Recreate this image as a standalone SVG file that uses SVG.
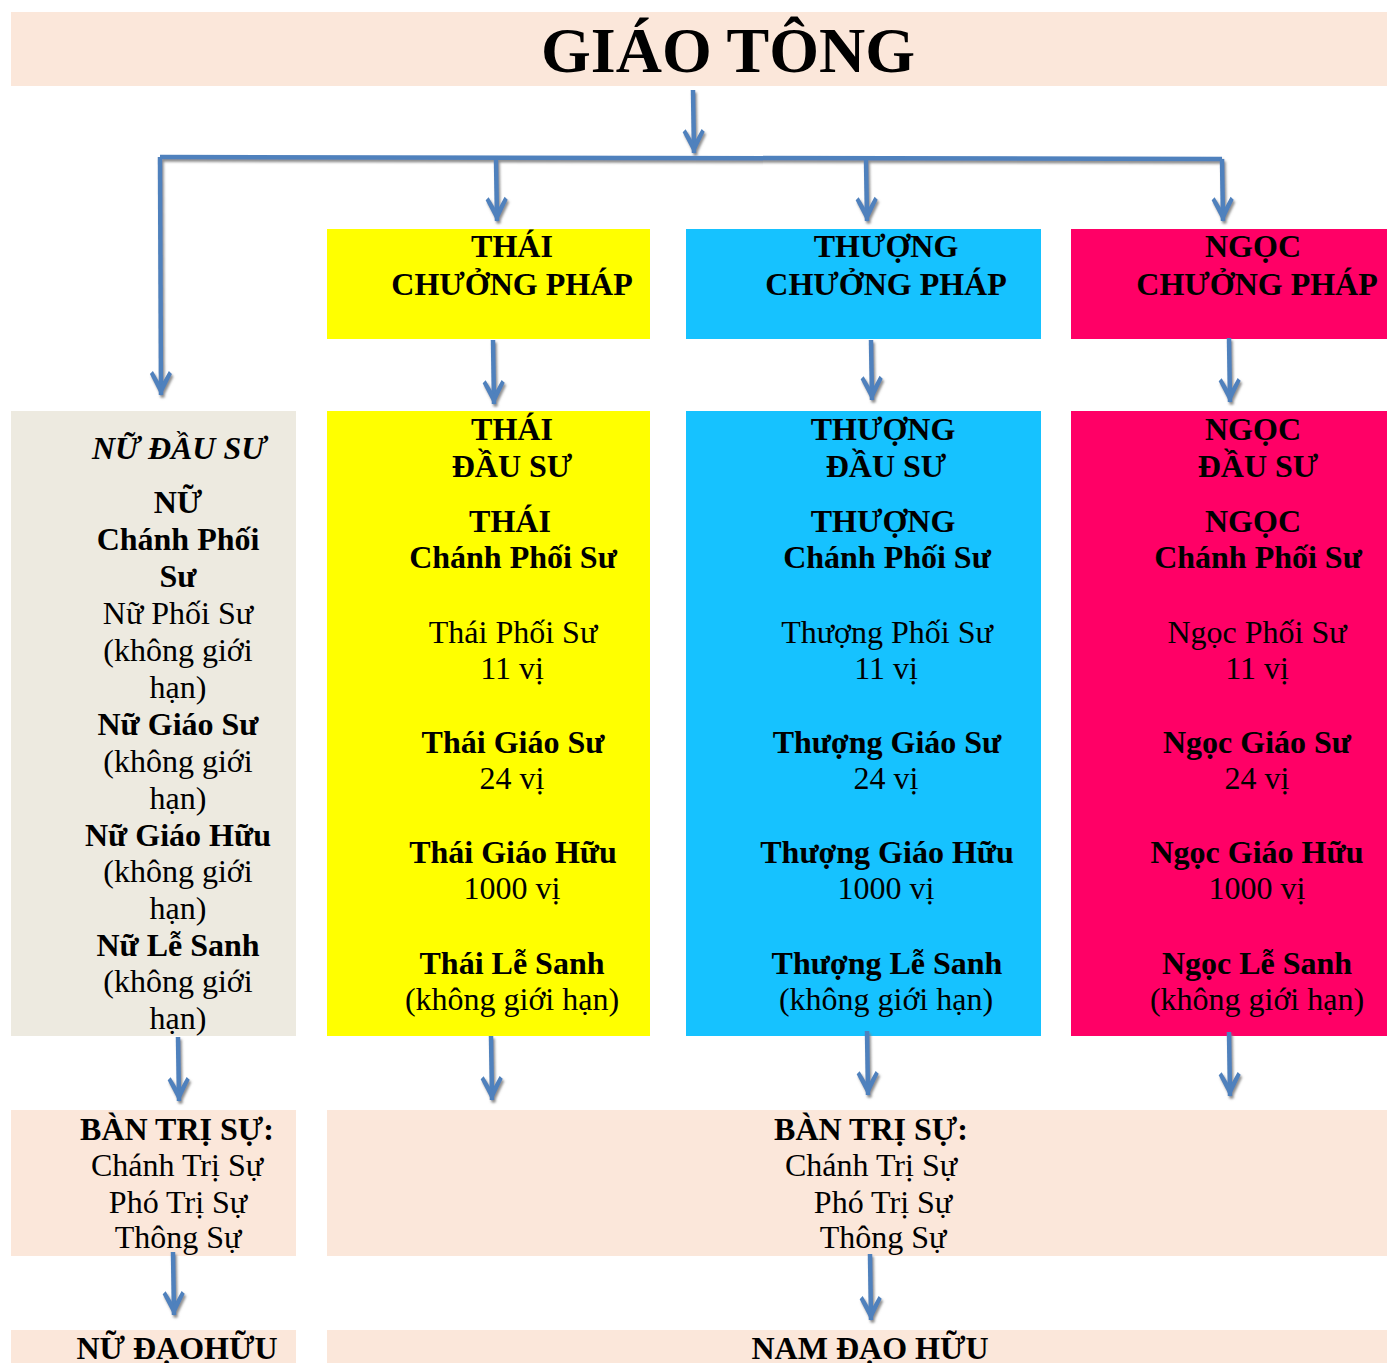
<svg xmlns="http://www.w3.org/2000/svg" width="1387" height="1363" viewBox="0 0 1387 1363">
<style>
text{font-family:"Liberation Serif","Times New Roman",serif;font-size:32px;text-anchor:middle;fill:#000}
.b{font-weight:bold}
.bi{font-weight:bold;font-style:italic}
.peach{fill:#FBE7DA}
.gray{fill:#EDEAE0}
.yel{fill:#FFFF00}
.blu{fill:#16C2FF}
.red{fill:#FF0066}
.conn{stroke:#4F81BD;stroke-width:4.5;fill:none}
</style>
<defs>
<filter id="sh" x="-20%" y="-20%" width="160%" height="160%">
<feDropShadow dx="1.5" dy="2.5" stdDeviation="1" flood-color="#808080" flood-opacity="0.9"/>
</filter>
<marker id="ah" markerUnits="userSpaceOnUse" markerWidth="32" markerHeight="32" viewBox="-28 -16 32 32" refX="0" refY="0" orient="auto">
<path d="M1,0 L-21,-11 L-24,-8 L-10,0 L-24,8 L-21,11 Z" fill="#4F81BD"/>
</marker>
</defs>

<g id="giao-tong">
<rect class="peach" x="11" y="12" width="1376" height="74"/>
<text class="b" x="728" y="72" style="font-size:64px">GIÁO TÔNG</text>
</g>

<g id="thai-chuong-phap">
<rect class="yel" x="327" y="229" width="323" height="110"/>
<text class="b" x="512" y="257">THÁI</text>
<text class="b" x="512" y="295">CHƯỞNG PHÁP</text>
</g>
<g id="thuong-chuong-phap">
<rect class="blu" x="686" y="229" width="355" height="110"/>
<text class="b" x="886" y="257">THƯỢNG</text>
<text class="b" x="886" y="295">CHƯỞNG PHÁP</text>
</g>
<g id="ngoc-chuong-phap">
<rect class="red" x="1071" y="229" width="316" height="110"/>
<text class="b" x="1253" y="257">NGỌC</text>
<text class="b" x="1257" y="295">CHƯỞNG PHÁP</text>
</g>

<g id="nu-dau-su">
<rect class="gray" x="11" y="411" width="285" height="625"/>
<text class="bi" x="179" y="459">NỮ ĐẦU SƯ</text>
<text class="b" x="178" y="513">NỮ</text>
<text class="b" x="178" y="550">Chánh Phối</text>
<text class="b" x="178" y="587">Sư</text>
<text x="178" y="624">Nữ Phối Sư</text>
<text x="178" y="661">(không giới</text>
<text x="178" y="698">hạn)</text>
<text class="b" x="178" y="735">Nữ Giáo Sư</text>
<text x="178" y="772">(không giới</text>
<text x="178" y="809">hạn)</text>
<text class="b" x="178" y="846">Nữ Giáo Hữu</text>
<text x="178" y="882">(không giới</text>
<text x="178" y="919">hạn)</text>
<text class="b" x="178" y="956">Nữ Lễ Sanh</text>
<text x="178" y="992">(không giới</text>
<text x="178" y="1029">hạn)</text>
</g>

<g id="thai-dau-su">
<rect class="yel" x="327" y="411" width="323" height="625"/>
<text class="b" x="512" y="440">THÁI</text>
<text class="b" x="512" y="477">ĐẦU SƯ</text>
<text class="b" x="510" y="532">THÁI</text>
<text class="b" x="513" y="568">Chánh Phối Sư</text>
<text x="513" y="643">Thái Phối Sư</text>
<text x="512" y="679">11 vị</text>
<text class="b" x="513" y="753">Thái Giáo Sư</text>
<text x="512" y="789">24 vị</text>
<text class="b" x="513" y="863">Thái Giáo Hữu</text>
<text x="512" y="899">1000 vị</text>
<text class="b" x="512" y="974">Thái Lễ Sanh</text>
<text x="512" y="1010">(không giới hạn)</text>
</g>

<g id="thuong-dau-su">
<rect class="blu" x="686" y="411" width="355" height="625"/>
<text class="b" x="883" y="440">THƯỢNG</text>
<text class="b" x="886" y="477">ĐẦU SƯ</text>
<text class="b" x="883" y="532">THƯỢNG</text>
<text class="b" x="887" y="568">Chánh Phối Sư</text>
<text x="887" y="643">Thượng Phối Sư</text>
<text x="886" y="679">11 vị</text>
<text class="b" x="887" y="753">Thượng Giáo Sư</text>
<text x="886" y="789">24 vị</text>
<text class="b" x="887" y="863">Thượng Giáo Hữu</text>
<text x="886" y="899">1000 vị</text>
<text class="b" x="887" y="974">Thượng Lễ Sanh</text>
<text x="886" y="1010">(không giới hạn)</text>
</g>

<g id="ngoc-dau-su">
<rect class="red" x="1071" y="411" width="316" height="625"/>
<text class="b" x="1253" y="440">NGỌC</text>
<text class="b" x="1258" y="477">ĐẦU SƯ</text>
<text class="b" x="1253" y="532">NGỌC</text>
<text class="b" x="1258" y="568">Chánh Phối Sư</text>
<text x="1257" y="643">Ngọc Phối Sư</text>
<text x="1257" y="679">11 vị</text>
<text class="b" x="1257" y="753">Ngọc Giáo Sư</text>
<text x="1257" y="789">24 vị</text>
<text class="b" x="1257" y="863">Ngọc Giáo Hữu</text>
<text x="1257" y="899">1000 vị</text>
<text class="b" x="1257" y="974">Ngọc Lễ Sanh</text>
<text x="1257" y="1010">(không giới hạn)</text>
</g>

<g id="ban-tri-su-nu">
<rect class="peach" x="11" y="1110" width="285" height="146"/>
<text class="b" x="177" y="1140">BÀN TRỊ SỰ:</text>
<text x="177" y="1176">Chánh Trị Sự</text>
<text x="178" y="1213">Phó Trị Sự</text>
<text x="178" y="1248">Thông Sự</text>
</g>
<g id="ban-tri-su-nam">
<rect class="peach" x="327" y="1110" width="1060" height="146"/>
<text class="b" x="871" y="1140">BÀN TRỊ SỰ:</text>
<text x="871" y="1176">Chánh Trị Sự</text>
<text x="883" y="1213">Phó Trị Sự</text>
<text x="883" y="1248">Thông Sự</text>
</g>

<g id="nu-dao-huu">
<rect class="peach" x="11" y="1330" width="285" height="33"/>
<text class="b" x="177" y="1359">NỮ ĐẠOHỮU</text>
</g>
<g id="nam-dao-huu">
<rect class="peach" x="327" y="1330" width="1060" height="33"/>
<text class="b" x="870" y="1359">NAM ĐẠO HỮU</text>
</g>

<g id="connectors" filter="url(#sh)">
<path class="conn" d="M160,157 L1222,159"/>
<path class="conn" d="M693,90 L694,153" marker-end="url(#ah)"/>
<path class="conn" d="M160,157 L161,395" marker-end="url(#ah)"/>
<path class="conn" d="M496,159 L497,221" marker-end="url(#ah)"/>
<path class="conn" d="M866,159 L867,221" marker-end="url(#ah)"/>
<path class="conn" d="M1222,159 L1223,221" marker-end="url(#ah)"/>
<path class="conn" d="M493,340 L494,404" marker-end="url(#ah)"/>
<path class="conn" d="M871,340 L872,400" marker-end="url(#ah)"/>
<path class="conn" d="M1229,338 L1230,402" marker-end="url(#ah)"/>
<path class="conn" d="M178,1037 L179,1101" marker-end="url(#ah)"/>
<path class="conn" d="M491,1036 L492,1100" marker-end="url(#ah)"/>
<path class="conn" d="M867,1031 L868,1095" marker-end="url(#ah)"/>
<path class="conn" d="M1229,1032 L1230,1096" marker-end="url(#ah)"/>
<path class="conn" d="M173,1252 L174,1315" marker-end="url(#ah)"/>
<path class="conn" d="M870,1254 L871,1320" marker-end="url(#ah)"/>
</g>
</svg>
